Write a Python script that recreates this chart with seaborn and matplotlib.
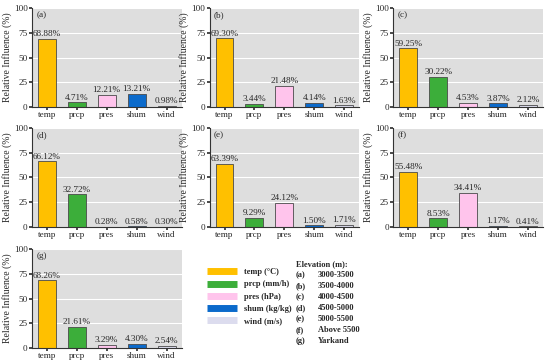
import matplotlib
matplotlib.use("Agg")
import matplotlib.pyplot as plt
import seaborn as sns
import pandas as pd
from matplotlib.lines import Line2D

variables = ["temp", "prcp", "pres", "shum", "wind"]
legend_labels = ["temp (\u00b0C)", "prcp (mm/h)", "pres (hPa)", "shum (kg/kg)", "wind (m/s)"]
colores = ["#FFC000", "#3CAE3A", "#FFC4EC", "#0B6ACB", "#DCDCEE"]

panel_a = [68.88, 4.71, 12.21, 13.21, 0.98]
panel_b = [69.30, 3.44, 21.48, 4.14, 1.63]
panel_c = [59.25, 30.22, 4.53, 3.87, 2.12]
panel_d = [66.12, 32.72, 0.28, 0.58, 0.30]
panel_e = [63.39, 9.29, 24.12, 1.50, 1.71]
panel_f = [55.48, 8.53, 34.41, 1.17, 0.41]
panel_g = [68.26, 21.61, 3.29, 4.30, 2.54]

paneles = ["(a)", "(b)", "(c)", "(d)", "(e)", "(f)", "(g)"]
valores = [panel_a, panel_b, panel_c, panel_d, panel_e, panel_f, panel_g]

elev_letras = ["(a)", "(b)", "(c)", "(d)", "(e)", "(f)", "(g)"]
elev_rangos = ["3000-3500", "3500-4000", "4000-4500", "4500-5000", "5000-5500", "Above 5500", "Yarkand"]

sns.set_theme(style="darkgrid", rc={"axes.facecolor": "#DEDEDE", "grid.color": "white",
                                     "grid.linewidth": 0.8})
plt.rcParams["font.family"] = ["Liberation Serif", "DejaVu Serif"]

fig = plt.figure(figsize=(5.5, 3.63), dpi=100)

lefts = [0.058, 0.381, 0.715]
bottoms = [0.705, 0.375, 0.041]
ancho, alto = 0.272, 0.273

for i, (nombre, vals) in enumerate(zip(paneles, valores)):
    fila, col = divmod(i, 3)
    ax = fig.add_axes([lefts[col], bottoms[fila], ancho, alto])
    df = pd.DataFrame({"var": variables, "val": vals})
    sns.barplot(data=df, x="var", y="val", hue="var", palette=colores, legend=False,
                saturation=1, width=0.6, edgecolor="#4a4a4a", linewidth=0.6, ax=ax)
    for cont, v in zip(ax.containers, vals):
        ax.bar_label(cont, labels=[f"{v:.2f}%"], padding=0.5, fontsize=6.6)
    ax.set_ylim(0, 100)
    ax.set_yticks([0, 25, 50, 75, 100])
    ax.set_xlabel("")
    ax.set_ylabel("Relative Influence (%)", fontsize=7, labelpad=1.5)
    ax.tick_params(axis="both", labelsize=6.6, pad=1, length=2, color="#333333", left=True, bottom=True)
    for s in ["top", "right"]:
        ax.spines[s].set_visible(False)
    for s in ["left", "bottom"]:
        ax.spines[s].set_visible(True)
        ax.spines[s].set_color("#333333")
        ax.spines[s].set_linewidth(0.8)
    ax.text(0.03, 0.97, nombre, transform=ax.transAxes, ha="left", va="top", fontsize=6.6)

# leyenda de variables
handles = [Line2D([0], [0], color=c, lw=5, solid_capstyle="butt") for c in colores]
fig.legend(handles, legend_labels, loc="upper left", bbox_to_anchor=(0.370, 0.270),
           frameon=False, prop={"weight": "bold", "size": 6}, handlelength=3.6,
           labelspacing=0.5, handletextpad=0.85, borderaxespad=0)

# bloque de elevaciones
x0, y0 = 0.538, 0.272
fig.text(x0, y0, "Elevation (m):", fontsize=6, fontweight="bold", ha="left", va="center")
for k, (l, r) in enumerate(zip(elev_letras, elev_rangos)):
    y = y0 - 0.0303 * (k + 1)
    fig.text(x0, y, l, fontsize=6, fontweight="bold", ha="left", va="center")
    fig.text(x0 + 0.040, y, r, fontsize=6, fontweight="bold", ha="left", va="center")

fig.savefig("out.png", dpi=100)
